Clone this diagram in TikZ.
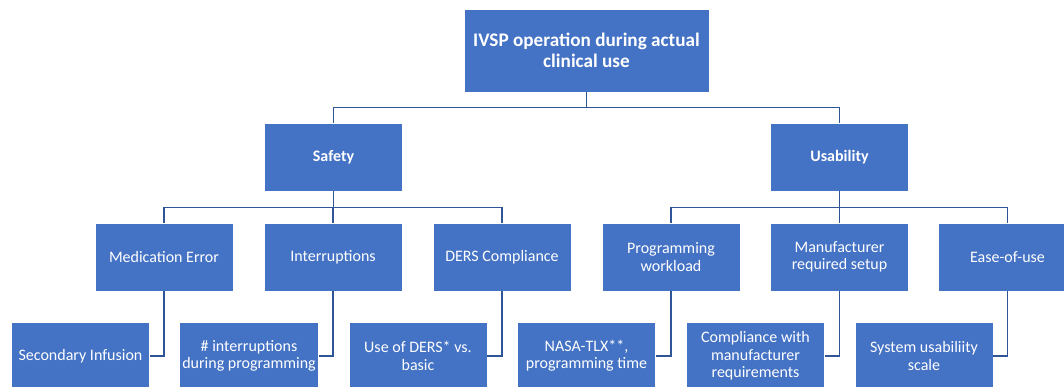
\documentclass[tikz,border=0pt]{standalone}
\usepackage{fontspec}
\setmainfont{Carlito}
\usetikzlibrary{calc}

\definecolor{boxblue}{HTML}{4472C4}
\definecolor{lineblue}{HTML}{2F5597}

\begin{document}
\begin{tikzpicture}[x=0.75pt,y=-0.75pt,
  box/.style={rectangle,fill=boxblue,draw=white,line width=0.6pt,text=white,
    align=center,inner sep=2pt,font=\fontsize{12}{13}\selectfont},
  link/.style={draw=lineblue,line width=1.3pt}]

% Page frame (pixel units, y downwards)
\useasboundingbox (0,0) rectangle (1064,386);

% Box size of the lower levels
\def\wb{103.5pt}
\def\hb{51pt}

% Top box
\node[box,minimum width=183.75pt,minimum height=62.25pt,font=\fontsize{14.4}{15.5}\selectfont\bfseries]
  (ivsp) at (586.5,50.5) {IVSP operation during actual\\clinical use};

% Second level
\node[box,minimum width=103.5pt,minimum height=51pt,font=\fontsize{12}{13}\selectfont\bfseries]
  (safety) at (333.5,157) {Safety};
\node[box,minimum width=103.5pt,minimum height=51pt,font=\fontsize{12}{13}\selectfont\bfseries]
  (usab) at (839.5,157) {Usability};

% Third level
\node[box,minimum width=\wb,minimum height=\hb] (mederr) at (164,257) {Medication Error};
\node[box,minimum width=\wb,minimum height=\hb] (interr) at (333,257) {Interruptions};
\node[box,minimum width=\wb,minimum height=\hb] (dersc)  at (502,257) {DERS Compliance};
\node[box,minimum width=\wb,minimum height=\hb] (progw)  at (671,257) {Programming\\workload};
\node[box,minimum width=\wb,minimum height=\hb] (manuf)  at (839.5,257) {Manufacturer\\required setup};
\node[box,minimum width=\wb,minimum height=\hb] (easeu)  at (1007.5,257) {Ease-of-use};

% Fourth level
\node[box,minimum width=\wb,minimum height=\hb] (secinf) at (80.5,356) {Secondary Infusion};
\node[box,minimum width=\wb,minimum height=\hb] (numint) at (249,356) {\# interruptions\\during programming};
\node[box,minimum width=\wb,minimum height=\hb] (usedrs) at (418,356) {Use of DERS* vs.\\basic};
\node[box,minimum width=\wb,minimum height=\hb] (nasatl) at (586.5,356) {NASA-TLX**,\\programming time};
\node[box,minimum width=\wb,minimum height=\hb] (compmr) at (755.5,356) {Compliance with\\manufacturer\\requirements};
\node[box,minimum width=\wb,minimum height=\hb] (susc)   at (924,356) {System usabiliity\\scale};

% Top to second level
\draw[link] (ivsp.south) -- ++(0,15) -| (safety.north);
\draw[link] (ivsp.south) -- ++(0,15) -| (usab.north);

% Second to third level
\foreach \c in {mederr,interr,dersc}
  \draw[link] (safety.south) -- ++(0,16) -| (\c.north);
\foreach \c in {progw,manuf,easeu}
  \draw[link] (usab.south) -- ++(0,16) -| (\c.north);

% Third to fourth level
\draw[link] (mederr.south) |- (secinf.east);
\draw[link] (interr.south) |- (numint.east);
\draw[link] (dersc.south)  |- (usedrs.east);
\draw[link] (progw.south)  |- (nasatl.east);
\draw[link] (manuf.south)  |- (compmr.east);
\draw[link] (easeu.south)  |- (susc.east);

\end{tikzpicture}
\end{document}
